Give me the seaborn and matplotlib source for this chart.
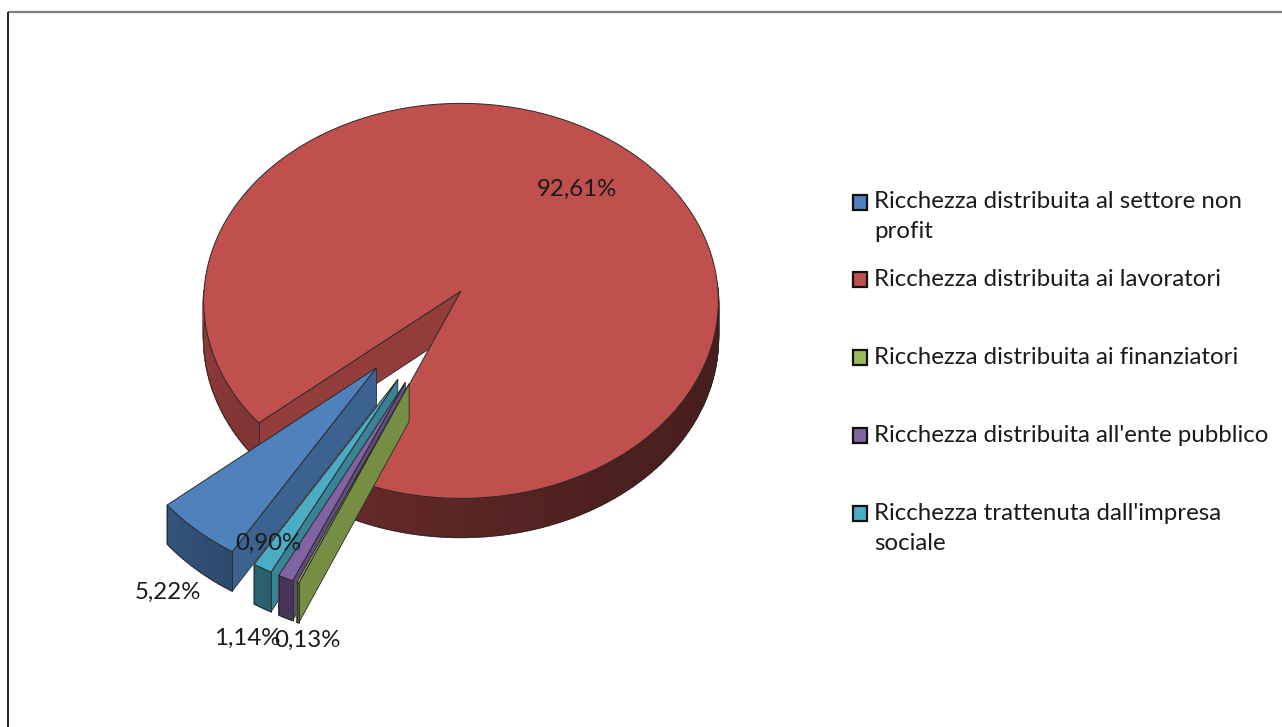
import numpy as np
import matplotlib
matplotlib.use("Agg")
import matplotlib.pyplot as plt
import seaborn as sns
from matplotlib.patches import Polygon, Rectangle
from matplotlib.colors import to_rgb

# ---------------- data ----------------
categories = [
    "Ricchezza distribuita al settore non profit",
    "Ricchezza distribuita ai lavoratori",
    "Ricchezza distribuita ai finanziatori",
    "Ricchezza distribuita all'ente pubblico",
    "Ricchezza trattenuta dall'impresa sociale",
]
legend_labels = [
    "Ricchezza distribuita al settore non\nprofit",
    "Ricchezza distribuita ai lavoratori",
    "Ricchezza distribuita ai finanziatori",
    "Ricchezza distribuita all'ente pubblico",
    "Ricchezza trattenuta dall'impresa\nsociale",
]
values = [5.22, 92.61, 0.13, 0.90, 1.14]
value_labels = ["5,22%", "92,61%", "0,13%", "0,90%", "1,14%"]
colors = ["#4F81BD", "#C0504D", "#9BBB59", "#8064A2", "#4BACC6"]
explode = [0.5, 0.0, 0.5, 0.5, 0.5]

# ---------------- style ----------------
sns.set_theme(style="white")
plt.rcParams["font.family"] = ["Lato", "DejaVu Sans"]
palette = sns.color_palette(colors)

W, H = 1282, 727
fig = plt.figure(figsize=(W / 100, H / 100), dpi=100)
ax = fig.add_axes([0, 0, 1, 1])
ax.set_xlim(0, W)
ax.set_ylim(H, 0)
ax.axis("off")

# frame
ax.plot([8, W], [12, 12], color="#7f7f7f", lw=1.6, solid_capstyle="butt")
ax.plot([8, 8], [12, H], color="#111111", lw=1.3, solid_capstyle="butt")

# ---------------- 3D pie projection ----------------
CX, CY, RX, RY, DEPTH, PERSP = 461, 291, 257, 197, 37, 0.05
START = 239.2  # degrees, slices drawn clockwise


def proj(X, V, h):
    s = 1.0 / (1.0 + PERSP * V)
    return CX + X * RX * s, CY - V * RY * s + h * DEPTH * s


def shade(c, f):
    r, g, b = to_rgb(c)
    return (r * f, g * f, b * f)


def side_factor(t):
    t = np.mod(t, 360)
    return np.interp(t, [180, 220, 250, 300, 360], [0.76, 0.66, 0.52, 0.40, 0.36])


EDGE = "#2b2b2b"
Z = [2.0]


def nz():
    Z[0] += 1e-4
    return Z[0]


total = sum(values)
slices = []
cum = 0.0
for i, v in enumerate(values):
    a2 = START - cum / total * 360.0
    a1 = a2 - v / total * 360.0
    cum += v
    mid = np.radians((a1 + a2) / 2)
    ox, oy = explode[i] * np.cos(mid), explode[i] * np.sin(mid)
    slices.append((i, a1, a2, ox, oy))


def cut_face(col, ox, oy, x, y):
    pts = [proj(ox, oy, 0), proj(x, y, 0), proj(x, y, 1), proj(ox, oy, 1)]
    ax.add_patch(Polygon(pts, closed=True, facecolor=shade(col, 0.76),
                         edgecolor=EDGE, lw=0.6, zorder=nz()))


def draw_slice(i, a1, a2, ox, oy):
    col = palette[i]
    n = max(4, int(abs(a2 - a1) * 1.5))
    ts = np.linspace(a1, a2, n + 1)
    tr = np.radians(ts)
    Xs = ox + np.cos(tr)
    Vs = oy + np.sin(tr)
    if np.cos(np.radians(a2)) < 0:
        cut_face(col, ox, oy, Xs[-1], Vs[-1])
    if np.cos(np.radians(a1)) > 0:
        cut_face(col, ox, oy, Xs[0], Vs[0])
    # outer side, visible part only, shaded strip by strip
    for k in range(n):
        tm = 0.5 * (ts[k] + ts[k + 1])
        if np.sin(np.radians(tm)) < 0:
            pts = [proj(Xs[k], Vs[k], 0), proj(Xs[k + 1], Vs[k + 1], 0),
                   proj(Xs[k + 1], Vs[k + 1], 1), proj(Xs[k], Vs[k], 1)]
            c = shade(col, side_factor(tm))
            ax.add_patch(Polygon(pts, closed=True, facecolor=c, edgecolor=c,
                                 lw=1.2, zorder=nz()))
    # outline of visible outer side
    vis = np.sin(np.radians(ts)) < 0.02
    if vis.any():
        idx = np.where(vis)[0]
        runs = np.split(idx, np.where(np.diff(idx) != 1)[0] + 1)
        for run in runs:
            if len(run) < 2:
                continue
            bot = [proj(Xs[j], Vs[j], 1) for j in run]
            ax.plot([p[0] for p in bot], [p[1] for p in bot], color=EDGE,
                    lw=0.6, zorder=nz())
            for j in (run[0], run[-1]):
                p0, p1 = proj(Xs[j], Vs[j], 0), proj(Xs[j], Vs[j], 1)
                ax.plot([p0[0], p1[0]], [p0[1], p1[1]], color=EDGE, lw=0.6,
                        zorder=nz())
    # top face
    top = [proj(ox, oy, 0)] + [proj(x, y, 0) for x, y in zip(Xs, Vs)]
    ax.add_patch(Polygon(top, closed=True, facecolor=col, edgecolor=EDGE,
                         lw=0.7, zorder=nz()))


# painter's order: red first, then the exploded small slices left to right
for j in [1, 0, 4, 3, 2]:
    draw_slice(*slices[j])

# ---------------- labels ----------------
FS = 17.3
i, a1, a2, ox, oy = slices[1]
mid = np.radians((a1 + a2) / 2)
lx, ly = proj(ox + 0.72 * np.cos(mid), oy + 0.72 * np.sin(mid), 0)
ax.text(lx + 9, ly + 9, value_labels[1], fontsize=FS, color="#1a1a1a",
        ha="center", va="center", zorder=10)

small_label_pos = {0: (168, 592), 3: (268, 543), 4: (247, 638), 2: (307, 640)}
for k, (px, py) in small_label_pos.items():
    ax.text(px, py, value_labels[k], fontsize=FS, color="#1a1a1a",
            ha="center", va="center", zorder=10)

# ---------------- legend ----------------
legend_y = [202, 279, 357, 435, 513]
LINE = 30
for k, lab in enumerate(legend_labels):
    y0 = legend_y[k]
    ax.add_patch(Rectangle((853, y0 - 7.5), 14, 15, facecolor=palette[k],
                           edgecolor="#111111", lw=1.6, zorder=10))
    for m, line in enumerate(lab.split("\n")):
        ax.text(874, y0 + m * LINE, line, fontsize=FS, color="#1a1a1a",
                ha="left", va="center", zorder=10)

fig.savefig("out.png", dpi=100)
